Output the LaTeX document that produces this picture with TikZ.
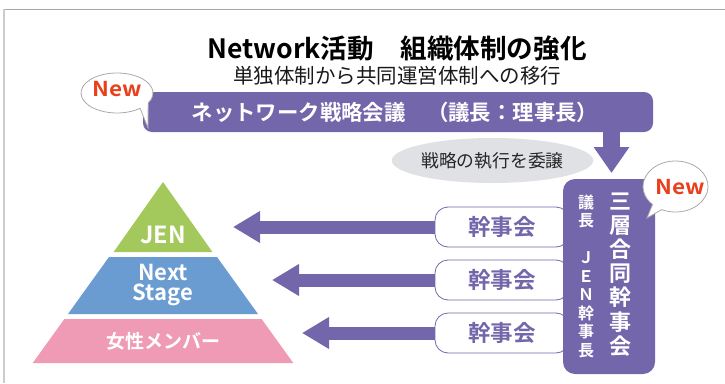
\documentclass[tikz,border=0pt]{standalone}
\usepackage{fontspec}
\newfontfamily\jp{Noto Sans CJK JP}
\newfontfamily\jpb{Noto Sans CJK JP Bold}
\usetikzlibrary{arrows.meta,shapes.geometric}
\definecolor{purp}{HTML}{7366AA}
\definecolor{pgreen}{HTML}{A3C95C}
\definecolor{pblue}{HTML}{6A9BD1}
\definecolor{ppink}{HTML}{F09BB5}
\definecolor{ellgray}{HTML}{DFE1E4}
\definecolor{frameC}{HTML}{A6A6A6}
\definecolor{frameL}{HTML}{CCCCCC}
\definecolor{newred}{HTML}{E8401C}
\definecolor{bubgray}{HTML}{AAAAAA}
\begin{document}
\begin{tikzpicture}[x=1pt,y=-1pt,
  harrow/.style={draw=purp,line width=13pt,-{Triangle[length=27pt 0 0,width=30pt 0 0]}},
  varrow/.style={draw=purp,line width=17pt,-{Triangle[length=26pt 0 0,width=34pt 0 0]}},
  kbox/.style={draw=purp,line width=0.8pt,fill=white,rounded corners=13pt,minimum width=134pt,minimum height=40pt,inner sep=0pt,text=purp,font=\jpb\fontsize{22.5}{24}\selectfont},
  bubble/.style={draw=bubgray,line width=0.8pt,fill=white},
  newtxt/.style={text=newred,font=\jpb\fontsize{20.5}{22}\selectfont,xscale=1.1,transform shape,inner sep=0pt},
  pyrtxt/.style={text=white,inner sep=0pt,align=center}
]
\useasboundingbox (0,0) rectangle (725,383);
% frame
\draw[frameC,line width=1.2pt] (4,9.3) -- (725,9.3);
\draw[frameL,line width=2pt] (4,9.3) -- (4,383);

% titles
\node[font=\jpb\fontsize{26.6}{30}\selectfont,inner sep=0pt] (title) at (397,48) {Network活動　組織体制の強化};
\node[font=\jp\fontsize{20.5}{24}\selectfont,text=black!90,inner sep=0pt] (sub) at (397,76) {単独体制から共同運営体制への移行};

% top bar
\node[fill=purp,rounded corners=9pt,minimum width=510pt,minimum height=40pt,inner sep=0pt] (bar) at (398,112) {};
\node[text=white,font=\jpb\fontsize{21.4}{24}\selectfont,inner sep=0pt] (bartxt) at (395,112) {ネットワーク戦略会議　（議長：理事長）};

% down arrow
\coordinate (dtip) at (611.5,173);
\draw[varrow] (dtip |- bar.south) -- (dtip);

% delegate ellipse
\node[ellipse,fill=ellgray,minimum width=189pt,minimum height=45pt,inner sep=0pt,text=black!85,font=\jp\fontsize{17.8}{20}\selectfont] (del) at (492.5,160.5) {戦略の執行を委譲};

% kanjikai boxes
\node[kbox] (k1) at (502,227) {幹事会};
\node[kbox] (k2) at (502,280) {幹事会};
\node[kbox] (k3) at (502,333) {幹事会};

% joint box
\node[fill=purp,rounded corners=12pt,minimum width=92pt,minimum height=195pt,inner sep=0pt] (jbox) at (609,276.5) {};
\node[text=white,align=center,inner sep=0pt,font=\jpb\fontsize{22}{24.2}\selectfont] (jcol1) at (620,274.5) {三\\層\\合\\同\\幹\\事\\会};
\node[text=white,align=center,inner sep=0pt,font=\jpb\fontsize{16}{18.5}\selectfont] (jcol2) at (586,276) {議\\長\\　\\Ｊ\\Ｅ\\Ｎ\\幹\\事\\長};

% horizontal arrows
\coordinate (t1) at (233,227);
\coordinate (t2) at (272,280);
\coordinate (t3) at (302,333);
\draw[harrow] (k1.west) -- (t1);
\draw[harrow] (k2.west) -- (t2);
\draw[harrow] (k3.west) -- (t3);

% pyramid
\fill[pgreen] (163,182) -- (212.4,252) -- (113.6,252) -- cycle;
\fill[pblue] (109,257) -- (217,257) -- (258,314) -- (68,314) -- cycle;
\fill[ppink] (64.4,319) -- (261.6,319) -- (293.3,363) -- (32.7,363) -- cycle;
\node[pyrtxt,font=\jpb\fontsize{23.5}{24}\selectfont] (pjen) at (163,235) {JEN};
\node[pyrtxt,font=\jpb\fontsize{22}{20}\selectfont] (pns) at (163,285) {Next\\Stage};
\node[pyrtxt,font=\jpb\fontsize{19}{20}\selectfont] (pwm) at (163,341.5) {女性メンバー};

% New bubbles
\draw[bubble] (148.18,103.0) arc[start angle=30,end angle=-310,x radius=36,y radius=20] -- (148,128) -- cycle;
\node[newtxt] (new1) at (117,89.5) {New};
\draw[bubble] (661.77,209.61) arc[start angle=115,end angle=-225,x radius=32.5,y radius=25.5] -- (647,218) -- cycle;
\node[newtxt] (new2) at (680,187.5) {New};
\end{tikzpicture}
\end{document}
